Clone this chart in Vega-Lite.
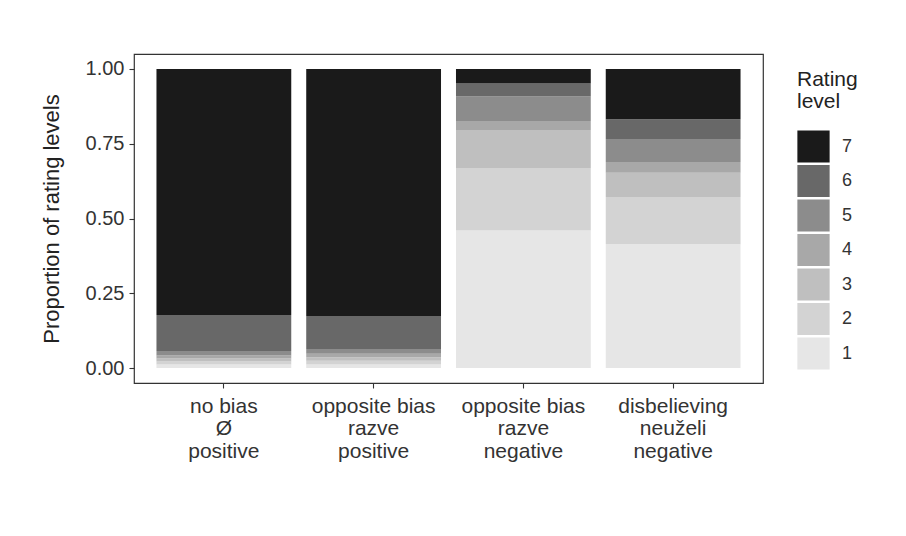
{
  "$schema": "https://vega.github.io/schema/vega-lite/v6.json",
  "width": 629,
  "height": 329,
  "autosize": {"type": "none"},
  "padding": {"left": 134, "top": 54, "right": 143, "bottom": 153},
  "background": "white",
  "config": {
    "font": "Liberation Sans",
    "view": {"stroke": "#333333", "strokeWidth": 1.2},
    "axis": {"grid": false, "domain": false, "tickColor": "#333333", "tickSize": 5, "tickWidth": 1.1, "labelColor": "#333333", "titleColor": "#222222", "labelFont": "Liberation Sans", "titleFont": "Liberation Sans", "titleFontWeight": "normal"},
    "legend": {"titleFont": "Liberation Sans", "labelFont": "Liberation Sans", "titleFontWeight": "normal"}
  },
  "data": {
    "values": [
      {"group": "no bias|Ø|positive", "rating": 1, "prop": 0.012},
      {"group": "no bias|Ø|positive", "rating": 2, "prop": 0.010},
      {"group": "no bias|Ø|positive", "rating": 3, "prop": 0.010},
      {"group": "no bias|Ø|positive", "rating": 4, "prop": 0.010},
      {"group": "no bias|Ø|positive", "rating": 5, "prop": 0.015},
      {"group": "no bias|Ø|positive", "rating": 6, "prop": 0.120},
      {"group": "no bias|Ø|positive", "rating": 7, "prop": 0.823},
      {"group": "opposite bias|razve|positive", "rating": 1, "prop": 0.012},
      {"group": "opposite bias|razve|positive", "rating": 2, "prop": 0.012},
      {"group": "opposite bias|razve|positive", "rating": 3, "prop": 0.012},
      {"group": "opposite bias|razve|positive", "rating": 4, "prop": 0.012},
      {"group": "opposite bias|razve|positive", "rating": 5, "prop": 0.016},
      {"group": "opposite bias|razve|positive", "rating": 6, "prop": 0.110},
      {"group": "opposite bias|razve|positive", "rating": 7, "prop": 0.826},
      {"group": "opposite bias|razve|negative", "rating": 1, "prop": 0.460},
      {"group": "opposite bias|razve|negative", "rating": 2, "prop": 0.209},
      {"group": "opposite bias|razve|negative", "rating": 3, "prop": 0.127},
      {"group": "opposite bias|razve|negative", "rating": 4, "prop": 0.030},
      {"group": "opposite bias|razve|negative", "rating": 5, "prop": 0.082},
      {"group": "opposite bias|razve|negative", "rating": 6, "prop": 0.043},
      {"group": "opposite bias|razve|negative", "rating": 7, "prop": 0.049},
      {"group": "disbelieving|neuželi|negative", "rating": 1, "prop": 0.414},
      {"group": "disbelieving|neuželi|negative", "rating": 2, "prop": 0.158},
      {"group": "disbelieving|neuželi|negative", "rating": 3, "prop": 0.081},
      {"group": "disbelieving|neuželi|negative", "rating": 4, "prop": 0.036},
      {"group": "disbelieving|neuželi|negative", "rating": 5, "prop": 0.077},
      {"group": "disbelieving|neuželi|negative", "rating": 6, "prop": 0.066},
      {"group": "disbelieving|neuželi|negative", "rating": 7, "prop": 0.168}
    ]
  },
  "mark": {"type": "bar"},
  "encoding": {
    "x": {
      "field": "group",
      "type": "nominal",
      "sort": ["no bias|Ø|positive", "opposite bias|razve|positive", "opposite bias|razve|negative", "disbelieving|neuželi|negative"],
      "scale": {"paddingInner": 0.1, "paddingOuter": 0.15},
      "axis": {"title": null, "labelAngle": 0, "labelExpr": "split(datum.value, '|')", "labelFontSize": 21, "labelLineHeight": 22.5, "labelPadding": 7, "labelBaseline": "top"}
    },
    "y": {
      "field": "prop",
      "type": "quantitative",
      "stack": "zero",
      "scale": {"domain": [-0.05, 1.05], "nice": false, "zero": false},
      "axis": {"title": "Proportion of rating levels", "values": [0, 0.25, 0.5, 0.75, 1], "format": ".2f", "labelFontSize": 20, "labelPadding": 5, "titleFontSize": 22, "titlePadding": 22}
    },
    "color": {
      "field": "rating",
      "type": "ordinal",
      "scale": {"domain": [7, 6, 5, 4, 3, 2, 1], "range": ["#1A1A1A", "#686868", "#8C8C8C", "#A8A8A8", "#BFBFBF", "#D3D3D3", "#E6E6E6"]},
      "legend": {
        "title": ["Rating", "level"],
        "orient": "none",
        "legendX": 663,
        "legendY": 15,
        "titleFontSize": 21,
        "titleLineHeight": 22,
        "titleColor": "#222222",
        "titlePadding": 18,
        "labelFontSize": 18,
        "labelColor": "#333333",
        "labelOffset": 12,
        "symbolType": "square",
        "symbolSize": 1040,
        "symbolStrokeWidth": 0,
        "symbolOpacity": 1,
        "rowPadding": 1.5
      }
    },
    "order": {"field": "rating", "type": "quantitative", "sort": "ascending"}
  }
}
